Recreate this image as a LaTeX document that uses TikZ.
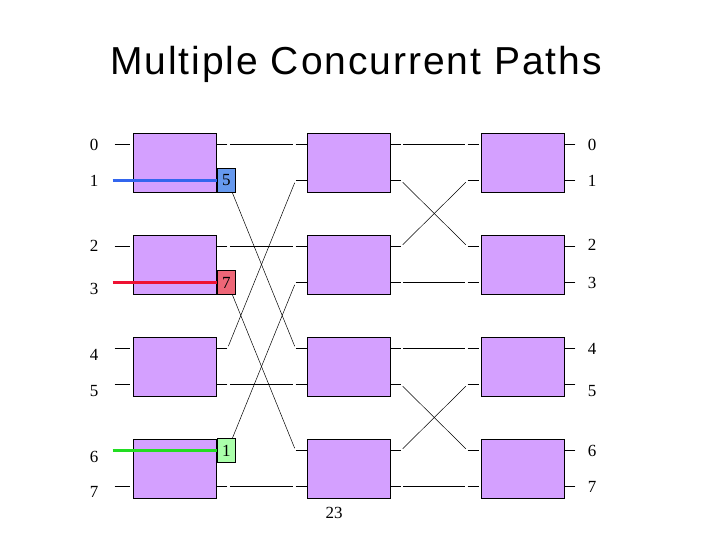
\documentclass[tikz,border=0pt]{standalone}
\usepackage{fontspec}
\setmainfont{Liberation Serif}
\newfontfamily\titlefont[LetterSpace=5]{Liberation Sans}
\usetikzlibrary{calc}

\definecolor{swfill}{HTML}{D4A0FF}
\definecolor{tagblue}{HTML}{6699EE}
\definecolor{tagred}{HTML}{EE6677}
\definecolor{taggreen}{HTML}{AAFFAA}
\definecolor{pathblue}{HTML}{3366EE}
\definecolor{pathred}{HTML}{EE1133}
\definecolor{pathgreen}{HTML}{22DD22}

\begin{document}
\begin{tikzpicture}[x=1pt,y=-1pt,
  switch/.style={draw, fill=swfill, line width=0.8pt, minimum width=83pt, minimum height=59pt, inner sep=0pt},
  portnum/.style={inner sep=0pt, font=\fontsize{17}{20}\selectfont},
  tag/.style={draw, line width=0.7pt, minimum width=18pt, minimum height=24pt, inner sep=0pt, anchor=west, font=\fontsize{17}{20}\selectfont},
  wire/.style={line width=0.7pt},
  link/.style={line width=0.5pt, shorten <=2.5pt, shorten >=2.5pt},
  route/.style={line width=3pt}]
\useasboundingbox (0,0) rectangle (720,540);

% title
\node[anchor=base, inner sep=0pt, font=\titlefont\fontsize{39}{44}\selectfont] (title) at (356,75) {Multiple Concurrent Paths};

% switches, three stages
\foreach \k in {0,...,3} {
  \node[switch] (a\k) at (175,{162.5+102*\k}) {};
  \node[switch] (b\k) at (348.5,{162.5+102*\k}) {};
  \node[switch] (c\k) at (522.5,{162.5+102*\k}) {};
}

% port ends
\foreach \k [evaluate=\k as \u using int(2*\k), evaluate=\k as \l using int(2*\k+1)] in {0,...,3} {
  \coordinate (ai\u) at ([xshift=-18.5pt,yshift=18pt]a\k.west);
  \coordinate (ai\l) at ([xshift=-18.5pt,yshift=-18pt]a\k.west);
  \coordinate (ao\u) at ([xshift=10.5pt,yshift=18pt]a\k.east);
  \coordinate (ao\l) at ([xshift=10.5pt,yshift=-18pt]a\k.east);
  \coordinate (bi\u) at ([xshift=-11pt,yshift=18pt]b\k.west);
  \coordinate (bi\l) at ([xshift=-11pt,yshift=-18pt]b\k.west);
  \coordinate (bo\u) at ([xshift=10.5pt,yshift=18pt]b\k.east);
  \coordinate (bo\l) at ([xshift=10.5pt,yshift=-18pt]b\k.east);
  \coordinate (ci\u) at ([xshift=-13pt,yshift=18pt]c\k.west);
  \coordinate (ci\l) at ([xshift=-13pt,yshift=-18pt]c\k.west);
  \coordinate (co\u) at ([xshift=11pt,yshift=18pt]c\k.east);
  \coordinate (co\l) at ([xshift=11pt,yshift=-18pt]c\k.east);
}

% stubs
\foreach \p in {0,...,7} {
  \draw[wire] (ai\p) -- ++(15,0);
  \draw[wire] (ao\p) -- ++(-11,0);
  \draw[wire] (bi\p) -- ++(11,0);
  \draw[wire] (bo\p) -- ++(-11,0);
  \draw[wire] (ci\p) -- ++(11,0);
  \draw[wire] (co\p) -- ++(-11,0);
}

% stage 1 -> stage 2
\foreach \p/\q in {0/0,1/4,2/2,3/6,4/1,5/5,6/3,7/7}
  \draw[link] (ao\p) -- (bi\q);
% stage 2 -> stage 3
\foreach \p/\q in {0/0,1/2,2/1,3/3,4/4,5/6,6/5,7/7}
  \draw[link] (bo\p) -- (ci\q);

% concurrent requests
\node[tag, fill=tagblue] (tag5) at ([yshift=-18pt]a0.east) {5};
\node[tag, fill=tagred] (tag7) at ([yshift=-18pt]a1.east) {7};
\node[tag, fill=taggreen] (tag1) at ([yshift=18pt]a3.east) {1};
\draw[route, pathblue] ([xshift=-2pt]ai1) -- (tag5.west);
\draw[route, pathred] ([xshift=-2pt]ai3) -- (tag7.west);
\draw[route, pathgreen] ([xshift=-2pt]ai6) -- (tag1.west);

% port numbers
\foreach \p/\y in {0/145,1/181,2/246,3/289,4/355,5/391,6/457,7/492}
  \node[portnum] (in\p) at (94,\y) {\p};
\foreach \p/\y in {0/145,1/181,2/245,3/283,4/349,5/391,6/451,7/487}
  \node[portnum] (out\p) at (592,\y) {\p};

\node[portnum] (slide) at (334,512.5) {23};
\end{tikzpicture}
\end{document}
